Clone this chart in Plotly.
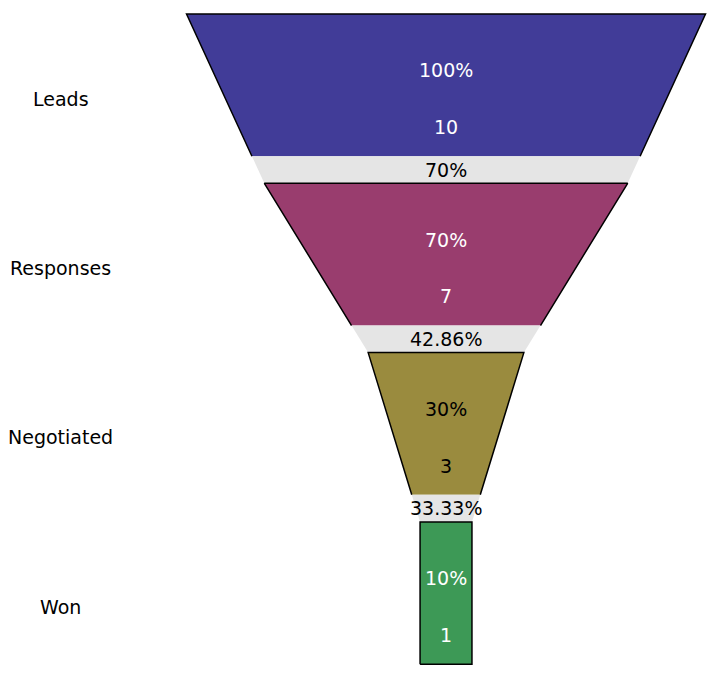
import plotly.graph_objects as go

stages = ["Leads", "Responses", "Negotiated", "Won"]
values = [10, 7, 3, 1]
colors = ["#413C98", "#993D6E", "#9A8B3E", "#3D9956"]
text_colors = ["white", "white", "black", "white"]

COLORED = 0.84  # fraction of stage height in colour, rest is connector band
x_range = [-16.88, 10.867]
y_range = [3.969, -0.0354]
FS = 19
LABEL_X = -14.85

fig = go.Figure()
top = values[0]
n = len(values)
for i, (name, v) in enumerate(zip(stages, values)):
    nxt = values[i + 1] if i + 1 < n else v
    y0, y1 = i, i + 1
    yc = y0 + COLORED
    wc = v + (nxt - v) * COLORED
    # coloured trapezoid
    fig.add_trace(go.Scatter(
        x=[-v, v, wc, -wc, -v], y=[y0, y0, yc, yc, y0],
        fill="toself", fillcolor=colors[i], mode="none",
        hoverinfo="skip", showlegend=False))
    # outline
    if i + 1 < n:
        ox, oy = [-wc, -v, v, wc], [yc, y0, y0, yc]
    else:
        ox, oy = [-wc, -v, v, wc, -wc], [yc, y0, y0, yc, yc]
    fig.add_trace(go.Scatter(x=ox, y=oy, mode="lines",
                             line=dict(color="black", width=1.5),
                             hoverinfo="skip", showlegend=False))
    if i + 1 < n:
        # connector band
        fig.add_trace(go.Scatter(
            x=[-wc, wc, nxt, -nxt, -wc], y=[yc, yc, y1, y1, yc],
            fill="toself", fillcolor="#E5E5E5", mode="none",
            hoverinfo="skip", showlegend=False))
        conv = nxt / v * 100
        fig.add_annotation(x=0, y=(yc + y1) / 2, text=f"{conv:.2f}".rstrip("0").rstrip(".") + "%",
                           showarrow=False, font=dict(color="black", size=FS))
    yc_stage = y0 + 0.5
    fig.add_annotation(x=0, y=yc_stage - 0.167, text=f"{v / top * 100:g}%",
                       showarrow=False, font=dict(color=text_colors[i], size=FS))
    fig.add_annotation(x=0, y=yc_stage + 0.167, text=f"{v}",
                       showarrow=False, font=dict(color=text_colors[i], size=FS))
    fig.add_annotation(x=LABEL_X, y=yc_stage, text=name,
                       showarrow=False, font=dict(color="black", size=FS))

fig.update_layout(
    width=720, height=678,
    margin=dict(l=0, r=0, t=0, b=0),
    paper_bgcolor="white", plot_bgcolor="white",
    font=dict(family="DejaVu Sans", size=FS, color="black"),
    xaxis=dict(range=x_range, visible=False, fixedrange=True),
    yaxis=dict(range=y_range, visible=False, fixedrange=True),
    showlegend=False,
)
fig.write_html("out.html")
